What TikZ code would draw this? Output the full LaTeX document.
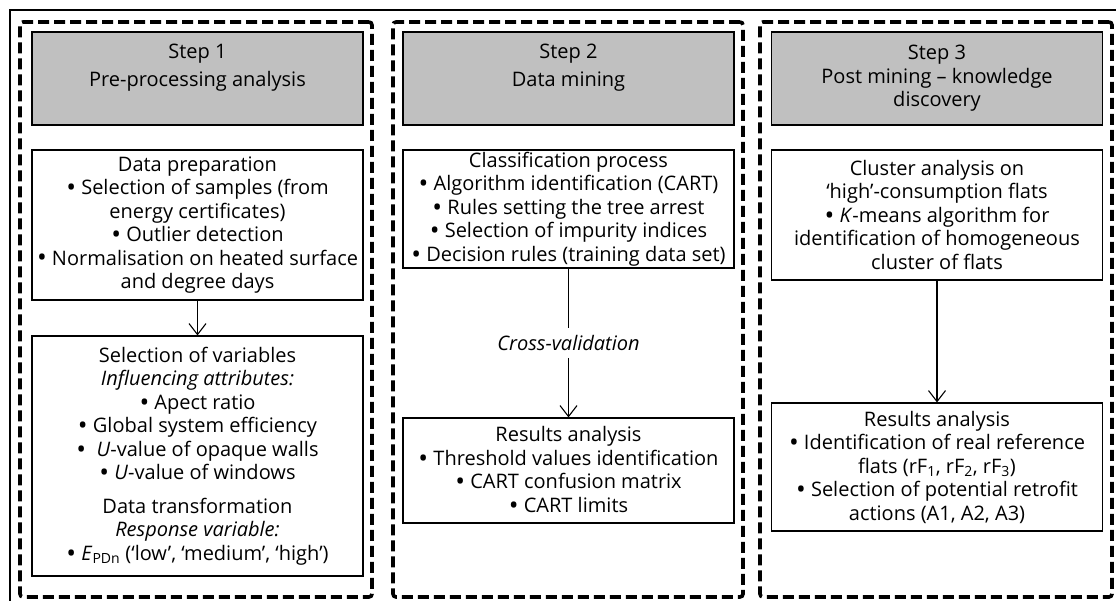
\documentclass[tikz,border=0pt]{standalone}
\usepackage{fontspec}
\usepackage{graphicx}
\setmainfont{Open Sans}
\usetikzlibrary{arrows.meta}
\definecolor{hdrgray}{RGB}{192,192,192}
\newcommand\txtfont{\fontsize{20}{23.5}\selectfont}
\newcommand\bul{\raisebox{-0.09em}{\scalebox{1.3}{•}}}
\tikzset{
  frameline/.style={line width=1.2pt},
  stepbox/.style={draw, line width=3.6pt, dash pattern=on 11pt off 5pt, rounded corners=3pt, minimum height=575pt, inner sep=0pt},
  hdr/.style={draw, line width=1.8pt, fill=hdrgray, minimum width=331pt, minimum height=93pt, inner sep=0pt, align=center, font=\txtfont},
  box/.style={draw, line width=1.1pt, minimum width=331pt, inner sep=0pt, align=center, font=\txtfont},
  lbl/.style={inner sep=7pt, font=\txtfont\itshape},
  arr/.style={-{Straight Barb[length=11pt,width=17pt]}, line width=1.1pt},
  conn/.style={line width=1.1pt},
}
\begin{document}
\begin{tikzpicture}[x=1pt,y=-1pt]
\useasboundingbox (0,0) rectangle (1116,601);
% outer frame (clipped at right and bottom)
\draw[frameline] (10,601) -- (10,10) -- (1116,10);
% columns
\node[stepbox, minimum width=352pt] (col1) at (196,309.5) {};
\node[stepbox, minimum width=350pt] (col2) at (568,309.5) {};
\node[stepbox, minimum width=352pt] (col3) at (936,309.5) {};
% headers
\node[hdr] (h1) at (197.5,78.5) {Step 1\\[4pt]Pre-processing analysis\\[-4pt]\strut};
\node[hdr] (h2) at (568.5,78.5) {Step 2\\[4pt]Data mining\\[-4pt]\strut};
\node[hdr] (h3) at (937,78.5) {Step 3\\Post mining -- knowledge\\discovery};
% column 1
\node[box, minimum height=150pt] (b1a) at (197.5,225) {Data preparation\\\bul{} Selection of samples (from\\energy certificates)\\\bul{} Outlier detection\\\bul{} Normalisation on heated surface\\and degree days};
\node[box, minimum height=240pt] (b1b) at (197.5,456) {Selection of variables\\\textit{Influencing attributes:}\\\bul{} Apect ratio\\\bul{} Global system efficiency\\\bul\ \ \textit{U}-value of opaque walls\\\bul{} \textit{U}-value of windows\\[10pt]Data transformation\\\textit{Response variable:}\\\bul{} \textit{E}\textsubscript{PDn} (‘low’, ‘medium’, ‘high’)};
% column 2
\node[box, minimum height=118pt] (b2a) at (568.5,209) {Classification process\\\bul{} Algorithm identification (CART)\\\bul{} Rules setting the tree arrest\\\bul{} Selection of impurity indices\\\bul{} Decision rules (training data set)};
\node[lbl] (cv) at (568.5,343) {Cross-validation};
\node[box, minimum height=105pt] (b2b) at (568.5,470.5) {Results analysis\\\bul{} Threshold values identification\\\bul{} CART confusion matrix\\\bul{} CART limits};
% column 3
\node[box, minimum height=130pt] (b3a) at (937,215) {Cluster analysis on\\‘high’-consumption flats\\\bul{} \textit{K}-means algorithm for\\identification of homogeneous\\cluster of flats};
\node[box, minimum height=128pt] (b3b) at (937,467) {Results analysis\\\bul{} Identification of real reference\\flats (rF\textsubscript{1}, rF\textsubscript{2}, rF\textsubscript{3})\\\bul{} Selection of potential retrofit\\actions (A1, A2, A3)};
% connectors
\draw[arr] (b1a.south) -- (b1b.north);
\draw[conn] (b2a.south) -- (cv.north);
\draw[arr] (cv.south) -- (b2b.north);
\draw[arr] (b3a.south) -- (b3b.north);
\end{tikzpicture}
\end{document}
